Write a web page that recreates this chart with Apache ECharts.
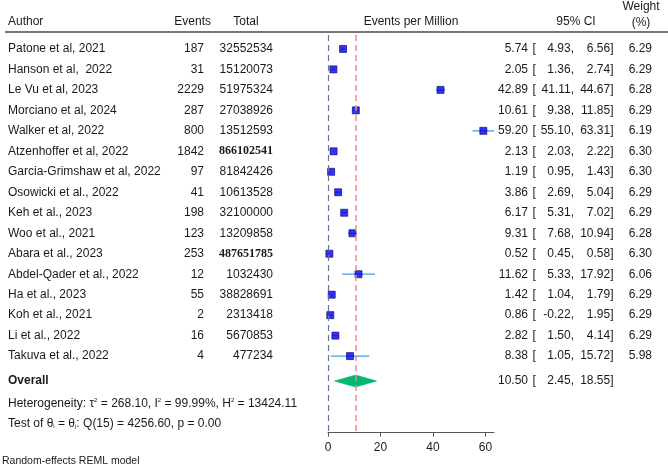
<!DOCTYPE html>
<html><head><meta charset="utf-8">
<script src="https://cdn.jsdelivr.net/npm/echarts@6/dist/echarts.min.js"></script>
<style>html,body{margin:0;padding:0;background:#fff}#c{width:668px;height:475px}</style>
</head><body><div id="c"></div>
<script>
// ---- data ----
const authors = ["Patone et al, 2021","Hanson et al,  2022","Le Vu et al, 2023","Morciano et al, 2024","Walker et al, 2022","Atzenhoffer et al, 2022","Garcia-Grimshaw et al, 2022","Osowicki et al., 2022","Keh et al., 2023","Woo et al., 2021","Abara et al., 2023","Abdel-Qader et al., 2022","Ha et al., 2023","Koh et al., 2021","Li et al., 2022","Takuva et al., 2022"];
const events = [187,31,2229,287,800,1842,97,41,198,123,253,12,55,2,16,4];
const totals = [32552534,15120073,51975324,27038926,13512593,866102541,81842426,10613528,32100000,13209858,487651785,1032430,38828691,2313418,5670853,477234];
const serifTotalIdx = [5,10];
const est = [5.74,2.05,42.89,10.61,59.20,2.13,1.19,3.86,6.17,9.31,0.52,11.62,1.42,0.86,2.82,8.38];
const lo  = [4.93,1.36,41.11,9.38,55.10,2.03,0.95,2.69,5.31,7.68,0.45,5.33,1.04,-0.22,1.50,1.05];
const hi  = [6.56,2.74,44.67,11.85,63.31,2.22,1.43,5.04,7.02,10.94,0.58,17.92,1.79,1.95,4.14,15.72];
const weights = [6.29,6.29,6.28,6.29,6.19,6.30,6.30,6.29,6.29,6.28,6.30,6.06,6.29,6.29,6.29,5.98];
const overall = {est:10.50, lo:2.45, hi:18.55};
const xTicks = [0,20,40,60];

// row positions (1..16 studies, overall below)
const studyRows = authors.map((a,i)=>i+1);
const overallRow = 17.22;

const FONT = '12px "Liberation Sans", Arial, sans-serif';
const BFONT = 'bold 12px "Liberation Sans", Arial, sans-serif';
const SFONT = 'bold 12px "Liberation Serif", "Times New Roman", serif';
const TXT = '#1a1a1a';

function t(x, y, s, align, font, extra){
  return {type:'text', silent:true, style:Object.assign({x:x, y:y, text:s, align:align, verticalAlign:'middle', textAlign:align, textVerticalAlign:'middle', font:font||FONT, fill:TXT}, extra||{})};
}
function f2(v){ return v.toFixed(2); }

const chart = echarts.init(document.getElementById('c'), null, {renderer:'canvas'});

const ciData = studyRows.map((r,i)=>[lo[i],hi[i],r]);
const ptData = studyRows.map((r,i)=>[est[i],r,weights[i]]);
const textData = studyRows.map((r,i)=>[i,r]).concat([[-1,overallRow]]);

chart.setOption({
  animation:false,
  grid:{left:328, top:35, width:166.1, height:397.7},
  xAxis:{type:'value', min:0, max:63.31,
    axisLine:{show:true, lineStyle:{color:'#555', width:1}},
    axisTick:{show:true, length:4, customValues:xTicks, lineStyle:{color:'#555'}},
    axisLabel:{customValues:xTicks, color:TXT, fontSize:12, fontFamily:'"Liberation Sans", Arial, sans-serif', margin:9},
    splitLine:{show:false}},
  yAxis:{type:'value', inverse:true, min:0.32, max:19.74, show:false},
  series:[
    {type:'custom', name:'ci', data:ciData, clip:false, silent:true,
      renderItem:function(params, api){
        const a = api.coord([api.value(0), api.value(2)]);
        const b = api.coord([api.value(1), api.value(2)]);
        return {type:'line', shape:{x1:a[0],y1:a[1],x2:b[0],y2:b[1]}, style:{stroke:'#3f9cf4', lineWidth:1.3}};
      }},
    {type:'scatter', name:'est', data:ptData, symbol:'rect', symbolSize:7, clip:false, silent:true,
      itemStyle:{color:'#0000ee', borderColor:'#000070', borderWidth:0.8},
      markLine:{silent:true, symbol:'none', label:{show:false},
        data:[
          {xAxis:0, lineStyle:{color:'#6a7398', type:[6,4], width:1.2}},
          {xAxis:overall.est, lineStyle:{color:'#f28b8b', type:[6,4], width:1.5}}
        ]}},
    {type:'custom', name:'overall', data:[[overall.lo, overall.est, overall.hi, overallRow]], clip:false, silent:true,
      renderItem:function(params, api){
        const r = api.value(3);
        const L = api.coord([api.value(0), r]);
        const C = api.coord([api.value(1), r]);
        const R = api.coord([api.value(2), r]);
        const h = 6;
        return {type:'polygon', shape:{points:[[L[0],L[1]],[C[0],C[1]-h],[R[0],R[1]],[C[0],C[1]+h]]}, style:{fill:'#00b872', stroke:'#00a866', lineWidth:0.5}};
      }},
    {type:'custom', name:'text', data:textData, clip:false, silent:true, z:5,
      renderItem:function(params, api){
        const i = api.value(0);
        const y = api.coord([0, api.value(1)])[1];
        const kids = [];
        if (i >= 0){
          kids.push(t(8, y, authors[i], 'left'));
          kids.push(t(204, y, String(events[i]), 'right'));
          kids.push(t(273, y, String(totals[i]), 'right', serifTotalIdx.indexOf(i)>=0 ? SFONT : FONT));
          kids.push(t(528, y, f2(est[i]), 'right'));
          kids.push(t(532.5, y, '[', 'left'));
          kids.push(t(574, y, f2(lo[i])+',', 'right'));
          kids.push(t(613.5, y, f2(hi[i])+']', 'right'));
          kids.push(t(652, y, f2(weights[i]), 'right'));
        } else {
          kids.push(t(8, y, 'Overall', 'left', BFONT));
          kids.push(t(528, y, f2(overall.est), 'right'));
          kids.push(t(532.5, y, '[', 'left'));
          kids.push(t(574, y, f2(overall.lo)+',', 'right'));
          kids.push(t(613.5, y, f2(overall.hi)+']', 'right'));
        }
        return {type:'group', children:kids};
      }}
  ],
  graphic:[
    t(8, 22, 'Author', 'left'),
    t(211, 22, 'Events', 'right'),
    t(246, 22, 'Total', 'center'),
    t(411, 22, 'Events per Million', 'center'),
    t(576, 22, '95% CI', 'center'),
    t(641, 7, 'Weight', 'center'),
    t(641, 23, '(%)', 'center'),
    {type:'line', silent:true, shape:{x1:5, y1:32, x2:668, y2:32}, style:{stroke:'#4a4a4a', lineWidth:1.5}},
    {type:'text', silent:true, style:{x:8, y:404, verticalAlign:'middle', textVerticalAlign:'middle', fill:TXT, font:FONT,
      text:'Heterogeneity: τ{s|2} = 268.10, I{s|2} = 99.99%, H{s|2} = 13424.11',
      rich:{s:{fontSize:6, fontFamily:'"Liberation Sans", Arial, sans-serif', fill:TXT, padding:[0,0,7,0]}}}},
    {type:'text', silent:true, style:{x:8, y:424, verticalAlign:'middle', textVerticalAlign:'middle', fill:TXT, font:FONT,
      text:'Test of θ{b|i} = θ{b|j}: Q(15) = 4256.60, p = 0.00',
      rich:{b:{fontSize:6, fontFamily:'"Liberation Sans", Arial, sans-serif', fill:TXT, padding:[5,0,0,0]}}}},
    t(2, 461, 'Random-effects REML model', 'left', '10.5px "Liberation Sans", Arial, sans-serif')
  ]
});
</script></body></html>
